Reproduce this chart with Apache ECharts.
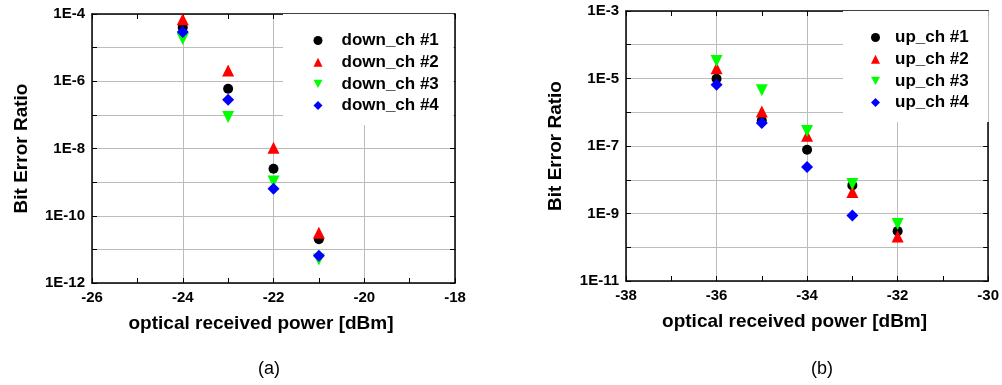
<!DOCTYPE html>
<html>
<head>
<meta charset="utf-8">
<script src="https://cdn.jsdelivr.net/npm/echarts@6/dist/echarts.min.js"></script>
<style>
    html, body { margin: 0; padding: 0; background: #fff; }
    #chart { width: 1002px; height: 385px; }
</style>
</head>
<body>
<div id="chart"></div>
<script>
// (a) downstream channels
var downPower = [-24, -23, -22, -21];
var downCh1 = [4.0e-5, 6.0e-7, 2.5e-9, 2.0e-11];
var downCh2 = [7.0e-5, 2.1e-6, 1.05e-8, 3.1e-11];
var downCh3 = [1.8e-5, 8.7e-8, 1.05e-9, 5.0e-12];
var downCh4 = [2.9e-5, 2.8e-7, 6.4e-10, 6.5e-12];
var downNames = ["down_ch #1", "down_ch #2", "down_ch #3", "down_ch #4"];

// (b) upstream channels (no visible ch #4 point at -32)
var upPower = [-36, -35, -34, -33, -32];
var upCh1 = [9.8e-6, 5.7e-7, 7.7e-8, 6.8e-9, 3.0e-10];
var upCh2 = [2.0e-5, 1.05e-6, 2.0e-7, 4.3e-9, 2.1e-10];
var upCh3 = [3.3e-5, 4.5e-6, 2.8e-7, 7.5e-9, 4.9e-10];
var upCh4 = [6.5e-6, 4.8e-7, 2.4e-8, 8.7e-10, null];
var upNames = ["up_ch #1", "up_ch #2", "up_ch #3", "up_ch #4"];

var font = "'Liberation Sans', Arial, sans-serif";

// marker style per channel
var marks = [
    {symbol: 'circle', size: 10, rotate: 0, color: '#000000'},
    {symbol: 'triangle', size: 12, rotate: 0, color: '#ff0000'},
    {symbol: 'triangle', size: 12, rotate: 180, color: '#00ff00'},
    {symbol: 'diamond', size: 12, rotate: 0, color: '#0000ff'}
];
var downTri = 'path://M0,0L10,0L5,9Z';

function zip(xs, ys) {
    var out = [];
    for (var i = 0; i < xs.length; i++) {
        if (ys[i] != null) out.push([xs[i], ys[i]]);
    }
    return out;
}

function makeSeries(names, xs, lists, axisIdx) {
    return lists.map(function (ys, i) {
        return {
            name: names[i],
            type: 'scatter',
            xAxisIndex: axisIdx,
            yAxisIndex: axisIdx,
            symbol: marks[i].symbol,
            symbolSize: marks[i].size,
            symbolRotate: marks[i].rotate,
            itemStyle: {color: marks[i].color, opacity: 1},
            data: zip(xs, ys)
        };
    });
}

// decade labels, only every other one
function logLabel(minExp) {
    return function (v) {
        var e = Math.round(Math.log10(v));
        if ((e - minExp) % 2 !== 0) return '';
        return '1E' + e;
    };
}

var axisLine = {show: true, onZero: false, lineStyle: {color: '#000', width: 1.5}};
var tick = {show: true, inside: true, length: 5, lineStyle: {color: '#000', width: 1}};
var grid = {show: true, lineStyle: {color: '#bcbcbc', width: 1}};
var minor = {show: true, splitNumber: 2, length: 5, lineStyle: {color: '#000', width: 1}};

function xAxes(gridIdx, min, max) {
    return [{
        type: 'value', gridIndex: gridIdx, min: min, max: max, interval: 2,
        position: 'bottom',
        name: 'optical received power [dBm]', nameLocation: 'middle', nameGap: 31,
        nameTextStyle: {fontFamily: font, fontWeight: 'bold', fontSize: 19, color: '#000',
            padding: [0, 25, 0, 0]},
        axisLine: axisLine, axisTick: tick, minorTick: minor,
        axisLabel: {fontFamily: font, fontWeight: 'bold', fontSize: 15, color: '#000', margin: 7},
        splitLine: grid
    }, {
        type: 'value', gridIndex: gridIdx, min: min, max: max, interval: 2,
        position: 'top',
        axisLine: axisLine, axisTick: tick, minorTick: minor,
        axisLabel: {show: false}, splitLine: {show: false}
    }];
}

function yAxes(gridIdx, minExp, maxExp, gap) {
    return [{
        type: 'log', logBase: 10, gridIndex: gridIdx,
        min: Math.pow(10, minExp), max: Math.pow(10, maxExp), splitNumber: maxExp - minExp,
        position: 'left',
        name: 'Bit Error Ratio', nameLocation: 'middle', nameGap: gap, nameRotate: 90,
        nameTextStyle: {fontFamily: font, fontWeight: 'bold', fontSize: 19, color: '#000'},
        axisLine: axisLine, axisTick: tick,
        axisLabel: {fontFamily: font, fontWeight: 'bold', fontSize: 15, color: '#000', margin: 7,
            formatter: logLabel(minExp)},
        splitLine: grid
    }, {
        type: 'log', logBase: 10, gridIndex: gridIdx,
        min: Math.pow(10, minExp), max: Math.pow(10, maxExp), splitNumber: maxExp - minExp,
        position: 'right',
        axisLine: axisLine, axisTick: tick,
        axisLabel: {show: false}, splitLine: {show: false}
    }];
}

function legend(names, left, top, padding, gap) {
    var data = names.map(function (n, i) {
        return i === 2 ? {name: n, icon: downTri} : {name: n};
    });
    return {
        data: data, orient: 'vertical', left: left, top: top,
        padding: padding, itemGap: 4.7, itemWidth: 9, itemHeight: 9,
        selectedMode: false, backgroundColor: '#ffffff',
        itemStyle: {opacity: 1},
        textStyle: {fontFamily: font, fontWeight: 'bold', fontSize: 17, color: '#000', padding: [0, 0, 0, gap]}
    };
}

var chart = echarts.init(document.getElementById('chart'), null, {renderer: 'canvas'});

var xa = xAxes(0, -26, -18).concat(xAxes(1, -38, -30));
var ya = yAxes(0, -12, -4, 61).concat(yAxes(1, -11, -3, 61));

var option = {
    backgroundColor: '#ffffff',
    animation: false,
    grid: [
        {left: 92, top: 14, width: 363, height: 269},
        {left: 626, top: 11, width: 363, height: 270}
    ],
    xAxis: xa,
    yAxis: ya,
    legend: [
        legend(downNames, 283, 14, [18, 15, 11, 30.5], 14),
        legend(upNames, 843, 11, [18, 20, 11, 28], 10)
    ],
    graphic: [
        {type: 'text', left: 258, top: 360, style: {text: '(a)', font: '18px ' + font, fill: '#000'}},
        {type: 'text', left: 811, top: 360, style: {text: '(b)', font: '18px ' + font, fill: '#000'}}
    ],
    // axes 0/1 belong to (a), axes 2/3 to (b)
    series: makeSeries(downNames, downPower, [downCh1, downCh2, downCh3, downCh4], 0)
        .concat(makeSeries(upNames, upPower, [upCh1, upCh2, upCh3, upCh4], 2))
};

chart.setOption(option);
</script>
</body>
</html>
